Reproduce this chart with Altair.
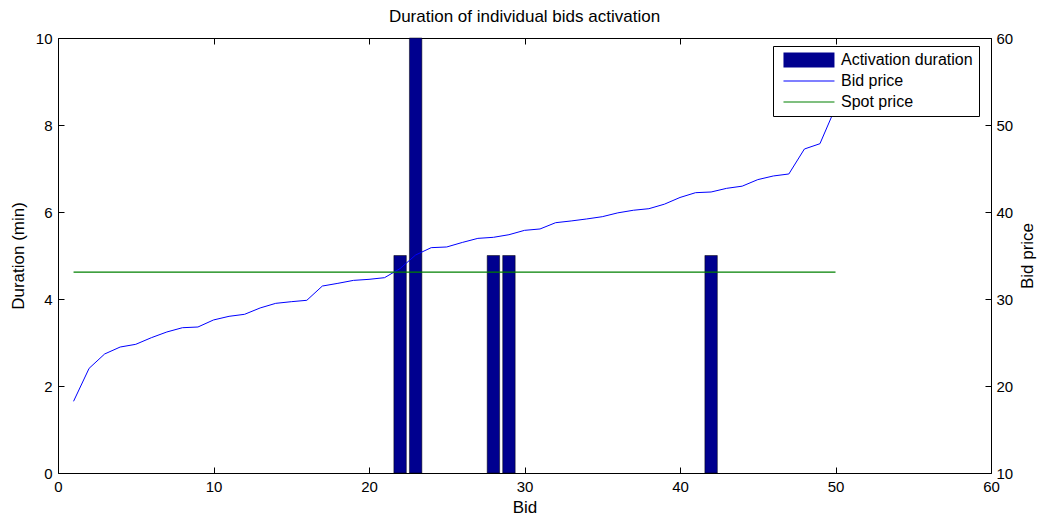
import altair as alt
import pandas as pd

# ---------------- data ----------------
bids = list(range(1, 51))
bid_price = [18.24, 22.03, 23.68, 24.48, 24.79, 25.55, 26.21, 26.70, 26.78, 27.59,
             28.01, 28.24, 28.97, 29.50, 29.69, 29.85, 31.49, 31.80, 32.14, 32.26,
             32.45, 33.50, 35.06, 35.90, 35.98, 36.50, 36.97, 37.09, 37.39, 37.89,
             38.05, 38.77, 38.97, 39.20, 39.46, 39.90, 40.20, 40.38, 40.90, 41.67,
             42.22, 42.30, 42.72, 42.97, 43.72, 44.14, 44.37, 47.24, 47.85, 52.00]
act_bids = [22, 23, 28, 29, 42]
act_duration = [5, 10, 5, 5, 5]
spot_bids = [1, 50]
spot_price = [33.1, 33.1]

series = ["Activation duration", "Bid price", "Spot price"]
series_colors = ["#00008F", "#0000FF", "#008000"]
x_ticks = [0, 10, 20, 30, 40, 50, 60]
dur_ticks = [0, 2, 4, 6, 8, 10]
price_ticks = [10, 20, 30, 40, 50, 60]

FONT = "Liberation Sans"

bars_df = pd.DataFrame({"bid": act_bids, "duration": act_duration})
price_df = pd.DataFrame({"bid": bids, "price": bid_price})
spot_df = pd.DataFrame({"bid": spot_bids, "price": spot_price})
legend_df = pd.DataFrame({"series": series})

# legend swatches: a filled box for the bars, thin strips for the lines
swatch_paths = ["M-0.47,-1H6.33V1H-0.47Z",
                "M-0.47,-0.08H6.33V0.08H-0.47Z",
                "M-0.47,-0.08H6.33V0.08H-0.47Z"]

x_scale = alt.Scale(domain=[0, 60], nice=False, zero=False)
dur_scale = alt.Scale(domain=[0, 10], nice=False)
price_scale = alt.Scale(domain=[10, 60], nice=False, zero=False)

common = dict(grid=False, tickColor="black", labelColor="black", titleColor="black",
              labelFont=FONT, titleFont=FONT, labelFontSize=15, titleFontSize=17,
              titleFontWeight="normal", domain=False, tickSize=6, offset=-6, tickWidth=1,
              labelFlush=False)

x_axis_bottom = alt.Axis(orient="bottom", values=x_ticks, labelPadding=6, title="Bid",
                         titlePadding=5, **common)
x_axis_top = alt.Axis(orient="top", values=x_ticks, labels=False, title=None, **common)
left_axis = alt.Axis(orient="left", values=dur_ticks, labelPadding=6, title="Duration (min)",
                     titlePadding=8, **common)
right_axis = alt.Axis(orient="right", values=price_ticks, labelPadding=5, title="Bid price",
                      titlePadding=24, titleAngle=270, **common)

bars = (
    alt.Chart(bars_df)
    .transform_calculate(lo="datum.bid - 0.4", hi="datum.bid + 0.4", base="0")
    .mark_bar(color="#00008F", stroke="black", strokeWidth=0.5)
    .encode(
        x=alt.X("lo:Q", scale=x_scale, axis=x_axis_bottom),
        x2="hi:Q",
        y=alt.Y("duration:Q", scale=dur_scale, axis=left_axis),
        y2="base:Q",
    )
)

price_line = alt.Chart(price_df).mark_line(color="#0000FF", strokeWidth=1).encode(
    x=alt.X("bid:Q", scale=x_scale, axis=x_axis_top),
    y=alt.Y("price:Q", scale=price_scale, axis=right_axis),
)

spot_line = alt.Chart(spot_df).mark_line(color="#008000", strokeWidth=1.2).encode(
    x=alt.X("bid:Q", scale=x_scale, axis=x_axis_top),
    y=alt.Y("price:Q", scale=price_scale, axis=right_axis),
)

legend_kw = dict(title=None, orient="none", legendX=715, legendY=8, padding=6,
                 strokeColor="black", fillColor="white", cornerRadius=0,
                 labelFont=FONT, labelFontSize=16, labelColor="black", labelOffset=46,
                 symbolSize=225, symbolStrokeWidth=0, symbolOpacity=1, rowPadding=5)

legend_pts = alt.Chart(legend_df).mark_point(filled=True, opacity=0).encode(
    color=alt.Color("series:N", scale=alt.Scale(domain=series, range=series_colors),
                    legend=alt.Legend(**legend_kw)),
    shape=alt.Shape("series:N", scale=alt.Scale(domain=series, range=swatch_paths),
                    legend=alt.Legend(**legend_kw)),
)

inner = alt.layer(price_line, spot_line, legend_pts)

chart = (
    alt.layer(bars, inner)
    .resolve_scale(y="independent")
    .resolve_axis(x="independent")
    .properties(
        width=933,
        height=435,
        title=alt.Title("Duration of individual bids activation", font=FONT, fontSize=17,
                        fontWeight="normal", color="black", anchor="middle", offset=5),
        autosize=alt.AutoSizeParams(type="none"),
        padding={"left": 58, "top": 38, "right": 49, "bottom": 46},
        background="white",
    )
    .configure(font=FONT)
    .configure_view(stroke="black", strokeWidth=1)
)

chart.save("out.html", embed_options={"renderer": "svg", "actions": False})
